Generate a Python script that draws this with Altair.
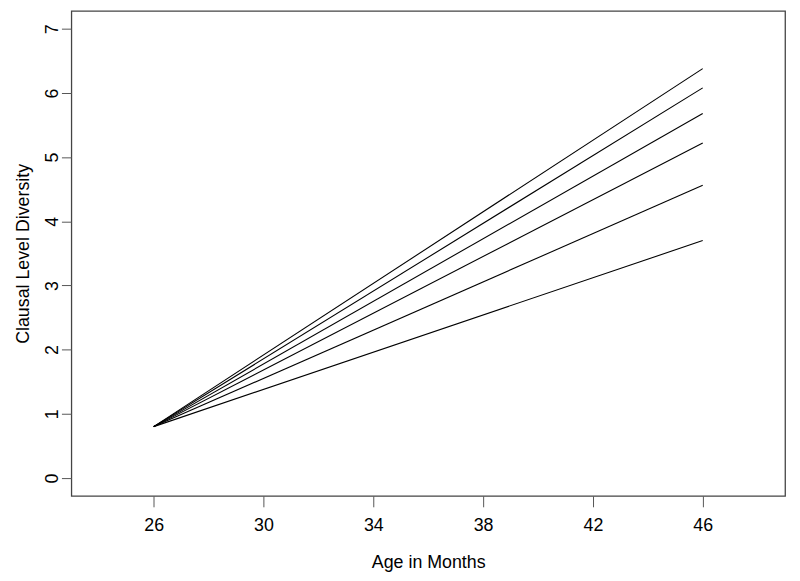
import altair as alt
import pandas as pd

ages = [26, 46]
start_value = 0.8
end_values = [6.38, 6.08, 5.68, 5.22, 4.56, 3.70]
x_ticks = [26, 30, 34, 38, 42, 46]
y_ticks = [0, 1, 2, 3, 4, 5, 6, 7]

rows = []
for i, ev in enumerate(end_values):
    rows.append({"line": i, "age": ages[0], "val": start_value})
    rows.append({"line": i, "age": ages[1], "val": ev})
df = pd.DataFrame(rows)

FONT = "Liberation Sans"

chart = alt.Chart(df).mark_line(color="black", strokeWidth=1.1).encode(
    x=alt.X("age:Q", scale=alt.Scale(domain=[23, 49], nice=False, zero=False),
            axis=alt.Axis(values=x_ticks, title="Age in Months", grid=False,
                          domain=False, tickColor="#555", tickSize=11,
                          labelFont=FONT, labelFontSize=18, labelColor="black",
                          labelPadding=10, titleFont=FONT, titleFontSize=18,
                          titleFontWeight="normal", titleColor="black",
                          titlePadding=19)),
    y=alt.Y("val:Q", scale=alt.Scale(domain=[-0.28, 7.28], nice=False, zero=False),
            axis=alt.Axis(values=y_ticks, title="Clausal Level Diversity", grid=False,
                          domain=False, tickColor="#555", tickSize=10,
                          labelFont=FONT, labelFontSize=18, labelColor="black",
                          labelAngle=270, labelAlign="center", labelBaseline="bottom",
                          labelPadding=0, titleFont=FONT, titleFontSize=18,
                          titleFontWeight="normal", titleColor="black",
                          titlePadding=11)),
    detail="line:N",
).properties(
    width=721, height=490,
    background="white",
    autosize=alt.AutoSizeParams(type="none"),
    padding={"left": 64, "top": 0, "right": 7, "bottom": 75},
).configure_view(stroke="#444", strokeWidth=1.3)

chart.save("out.html", embed_options={"renderer": "svg", "actions": False})
